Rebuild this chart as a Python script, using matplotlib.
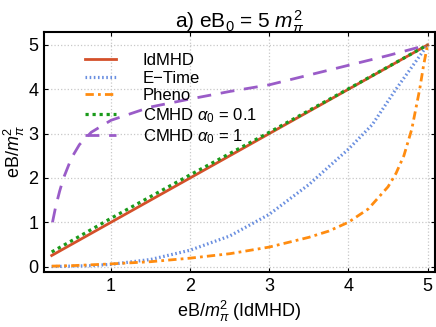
import matplotlib
matplotlib.use("Agg")
import matplotlib.pyplot as plt

plt.rcParams['font.family'] = ['Liberation Sans', 'DejaVu Sans']
plt.rcParams['mathtext.fontset'] = 'custom'
plt.rcParams['mathtext.rm'] = 'Liberation Sans'
plt.rcParams['mathtext.it'] = 'Liberation Sans:italic'
plt.rcParams['mathtext.bf'] = 'Liberation Sans:bold'

# Data
x_id = [0.25, 1, 2, 3, 4, 5]
y_id = [0.25, 1, 2, 3, 4, 5]

x_et = [0.25, 0.5, 0.75, 1, 1.5, 2, 2.5, 3, 3.5, 4, 4.3, 4.6, 4.8, 5]
y_et = [0.0, 0.01, 0.02, 0.05, 0.16, 0.37, 0.69, 1.18, 1.85, 2.65, 3.2, 4.0, 4.5, 5.0]

x_ph = [0.25, 0.5, 1, 1.5, 2, 2.5, 3, 3.5, 3.75, 4, 4.25, 4.5, 4.6, 4.7, 4.8, 4.9, 4.95, 5]
y_ph = [0.01, 0.02, 0.06, 0.11, 0.19, 0.29, 0.44, 0.66, 0.8, 1.0, 1.3, 1.8, 2.1, 2.5, 3.1, 4.0, 4.55, 5.0]

x_c01 = [0.25, 0.5, 1, 1.5, 2, 3, 4, 5]
y_c01 = [0.33, 0.58, 1.09, 1.58, 2.07, 3.03, 4.01, 5.0]

x_c1 = [0.26, 0.3, 0.35, 0.4, 0.5, 0.6, 0.75, 1, 1.5, 2, 2.5, 3, 3.5, 4, 4.5, 5]
y_c1 = [1.0, 1.35, 1.7, 2.0, 2.45, 2.75, 3.03, 3.3, 3.6, 3.78, 3.95, 4.1, 4.32, 4.54, 4.76, 5.0]

xticks = [1, 2, 3, 4, 5]
yticks = [0, 1, 2, 3, 4, 5]

fig = plt.figure(figsize=(4.36, 3.27), dpi=100)
ax = fig.add_axes([0.101, 0.168, 0.897, 0.734])

ax.plot(x_id, y_id, color='#D4502A', lw=2.0, label='IdMHD', zorder=3)
ax.plot(x_et, y_et, color='#6A8FE0', lw=2.3, linestyle=(0, (0.5, 0.8)), label='E\u2212Time', zorder=3)
ax.plot(x_ph, y_ph, color='#FF8C10', lw=2.0, linestyle=(0, (3, 1.5, 1, 1.5)), label='Pheno', zorder=3)
ax.plot(x_c01, y_c01, color='#1A9A1A', lw=2.3, linestyle=(0, (1, 1.2)), label=r'CMHD $\alpha_0$ = 0.1', zorder=4)
ax.plot(x_c1, y_c1, color='#9A5CC8', lw=2.0, linestyle=(0, (5, 3.5)), label=r'CMHD $\alpha_0$ = 1', zorder=3)

ax.set_xlim(0.153, 5.095)
ax.set_ylim(-0.124, 5.29)
ax.set_xticks(xticks)
ax.set_yticks(yticks)
ax.tick_params(direction='in', length=3, labelsize=13, top=True, right=True,
               labeltop=False, labelright=False, pad=4)
ax.grid(True, color='#C8C8C8', linestyle=':', lw=0.9)
for s in ax.spines.values():
    s.set_linewidth(1.5)

ax.set_xlabel(r'eB/$m_\pi^2$ (IdMHD)', fontsize=13, labelpad=3)
ax.set_ylabel(r'eB/$m_\pi^2$', fontsize=13, labelpad=1)
ax.set_title(r'a) eB$_0$ = 5 $m_\pi^2$', fontsize=15, pad=3)

leg = ax.legend(loc='upper left', bbox_to_anchor=(0.075, 0.962), frameon=False, fontsize=12,
                handlelength=1.85, handletextpad=1.6, labelspacing=0.16, borderaxespad=0.3)

fig.savefig('out.png', dpi=100)
